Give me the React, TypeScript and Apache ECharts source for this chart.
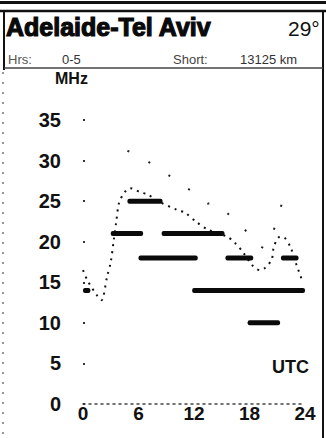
import React, { useEffect, useRef } from "react";
import * as echarts from "echarts";

// Hour ticks (UTC) and MHz ticks
const hourTicks = [0, 6, 12, 18, 24];
const mhzTicks = [0, 5, 10, 15, 20, 25, 30, 35];

// Thick bars: usable frequency bands (start hour, end hour, MHz)
const bandStart = [0, 3, 4.8, 8.5, 6, 15.4, 21.4, 11.8, 17.8];
const bandEnd = [0.8, 6.5, 8.6, 15.3, 12.4, 18.4, 23.3, 24, 21.3];
const bandFreq = [14, 21, 25, 21, 18, 18, 18, 14, 10];

// Dotted MUF curve
const mufHours = [0, 0.5, 1.5, 2, 2.6, 3, 3.3, 3.6, 3.9, 4.5, 5.1, 6.2, 7, 8.3, 10.2, 11, 12.3, 13.5, 15.6, 16.4, 17.3, 18.3, 19.1, 19.7, 20.4, 20.6, 21.1, 21.6, 22.4, 23.1, 23.6];
const mufValues = [16.5, 15.2, 13.4, 12.8, 15.7, 17.5, 20, 22.5, 24.8, 26.1, 26.6, 26.1, 25.8, 24.9, 23.9, 23.6, 22.4, 21.5, 20.6, 19.9, 18.7, 17.1, 16.5, 16.8, 17.8, 19.2, 20.5, 20.6, 19.4, 17.1, 15.5];

// Sparse dotted upper curve
const upperHours = [4.8, 5.8, 10.7, 13.5, 14.5, 17.5, 18.4, 19.5, 20.4, 21.5];
const upperValues = [31.2, 30.8, 27.1, 24.7, 24.7, 21.5, 20.1, 19.2, 20.6, 24.7];

const FONT = '"Liberation Sans", Arial, sans-serif';

export default function App() {
  const ref = useRef<HTMLDivElement>(null);

  useEffect(() => {
    if (!ref.current) return;
    const chart = echarts.init(ref.current, null, { renderer: "svg" });

    const bands = bandStart.map((s, i) => [s, bandEnd[i], bandFreq[i]]);
    const muf = mufHours.map((h, i) => [h, mufValues[i]]);
    const upper = upperHours.map((h, i) => [h, upperValues[i]]);

    const text = (
      t: string,
      x: number,
      y: number,
      size: number,
      weight: string,
      fill = "#111",
      strokeW = 0
    ) => ({
      type: "text",
      x,
      y,
      silent: true,
      style: {
        text: t,
        fontSize: size,
        fontWeight: weight,
        fontFamily: FONT,
        fill,
        stroke: strokeW ? fill : undefined,
        lineWidth: strokeW,
        align: "left",
        verticalAlign: "middle",
      },
    });
    const line = (x1: number, y1: number, x2: number, y2: number, w: number, color = "#111", dash?: number[]) => ({
      type: "line",
      silent: true,
      shape: { x1, y1, x2, y2 },
      style: { stroke: color, lineWidth: w, lineDash: dash },
    });

    chart.setOption({
      animation: false,
      backgroundColor: "#ffffff",
      grid: { left: 83, top: 120, width: 222, height: 284, containLabel: false },
      xAxis: {
        type: "value",
        min: 0,
        max: 24,
        interval: 6,
        axisLine: { show: true, lineStyle: { color: "#444", width: 1.5, type: [2, 4] } },
        axisTick: { show: false },
        splitLine: { show: false },
        axisLabel: {
          margin: 0,
          color: "#111",
          fontFamily: FONT,
          fontWeight: "bold",
          fontSize: 19,
          formatter: (v: number) => (hourTicks.includes(v) ? String(v) : ""),
        },
      },
      yAxis: {
        type: "value",
        min: 0,
        max: 35,
        interval: 5,
        axisLine: { show: false },
        axisTick: { show: true, inside: true, length: 2, lineStyle: { color: "#333", width: 2 } },
        splitLine: { show: false },
        axisLabel: {
          margin: 22,
          color: "#111",
          fontFamily: FONT,
          fontWeight: "bold",
          fontSize: 20,
          formatter: (v: number) => (mhzTicks.includes(v) ? String(v) : ""),
        },
      },
      series: [
        {
          type: "line",
          data: upper,
          showSymbol: false,
          smooth: false,
          lineStyle: { color: "#222", width: 2, type: [2, 22] },
          z: 2,
        },
        {
          type: "line",
          data: muf,
          showSymbol: false,
          smooth: 0.3,
          lineStyle: { color: "#111", width: 2, type: [2, 5] },
          z: 3,
        },
        {
          type: "custom",
          data: bands,
          encode: { x: [0, 1], y: 2 },
          renderItem: (_params: any, api: any) => {
            const s = api.coord([api.value(0), api.value(2)]);
            const e = api.coord([api.value(1), api.value(2)]);
            return {
              type: "rect",
              shape: { x: s[0], y: s[1] - 2.5, width: e[0] - s[0], height: 5, r: 2 },
              style: { fill: "#0a0a0a" },
            };
          },
          z: 4,
        },
      ],
      graphic: [
        line(0, 2.5, 326, 2.5, 3),
        line(0, 11, 326, 11, 2.5),
        line(4, 10, 4, 70, 2),
        line(323, 10, 323, 438, 2),
        line(4, 68, 323, 68, 1.5, "#444"),
        line(3, 72, 3, 438, 1.5, "#777", [2, 8]),
        text("Adelaide-Tel Aviv", 6, 27, 25, "bold", "#0a0a0a", 1.2),
        text("29°", 288, 28, 21, "normal"),
        text("Hrs:", 8, 59, 13, "normal", "#555"),
        text("0-5", 62, 59, 13, "normal", "#333"),
        text("Short:", 173, 59, 13, "normal", "#444"),
        text("13125 km", 240, 59, 13, "normal", "#333"),
        text("MHz", 55, 78, 16, "bold"),
        text("UTC", 272, 367, 18, "bold"),
      ],
    });

    return () => chart.dispose();
  }, []);

  return (
    <div
      ref={ref}
      style={{ position: "absolute", left: 0, top: 0, width: 326, height: 438, background: "#fff" }}
    />
  );
}
